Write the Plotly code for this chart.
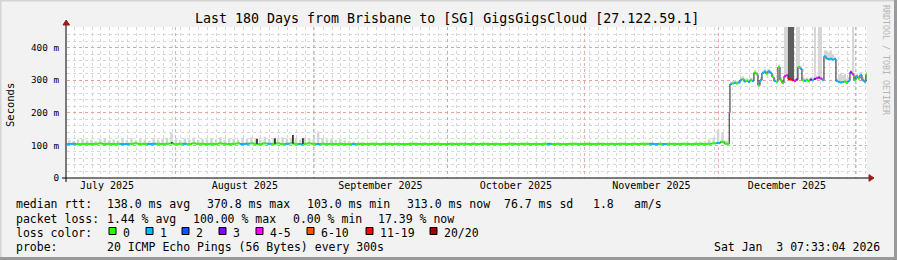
import pandas as pd
import plotly.graph_objects as go

# ---------------- data ----------------
title = "Last 180 Days from Brisbane to [SG] GigsGigsCloud [27.122.59.1]"
x_start = "2025-07-07 12:00"
x_end = "2026-01-03 12:00"
y_max = 463
y_tickvals = [0, 100, 200, 300, 400]
y_ticktext = ["0", "100 m", "200 m", "300 m", "400 m"]

loss_labels = ["0", "1", "2", "3", "4-5", "6-10", "11-19", "20/20"]
loss_colors = ["#26ff00", "#00b8ff", "#0059ff", "#7e00ff", "#ff00ff", "#ff5500", "#ff0000", "#a10000"]

# daily bins, Jul 7 -> Dec 3
early_start = "2025-07-07 12:00"
early_median = [
    104, 105, 104, 104, 105, 104, 105, 106, 104, 105,
    104, 105, 104, 104, 105, 106, 104, 105, 104, 105,
    105, 104, 105, 106, 104, 105, 105, 104, 106, 105,
    105, 104, 105, 104, 106, 105, 104, 105, 106, 104,
    105, 106, 105, 104, 106, 105, 105, 106, 104, 105,
    106, 105, 104, 105, 106, 105, 104, 105, 104, 105,
    104, 105, 104, 104, 104, 104, 105, 104, 105, 105,
    104, 105, 105, 104, 105, 104, 104, 105, 105, 104,
    105, 104, 105, 105, 104, 104, 105, 104, 105, 105,
    104, 105, 104, 105, 105, 104, 105, 104, 104, 105,
    105, 104, 105, 105, 104, 105, 104, 105, 105, 104,
    105, 104, 104, 105, 105, 104, 105, 105, 104, 105,
    105, 104, 105, 104, 105, 105, 104, 105, 104, 105,
    105, 105, 104, 105, 104, 105, 105, 104, 105, 105,
    104, 105, 105, 104, 105, 106, 107, 111, 105,
]
early_loss = [
    1, 1, 0, 0, 0, 0, 0, 0, 0, 0,
    0, 0, 1, 1, 0, 0, 0, 0, 1, 1,
    0, 0, 0, 0, 0, 0, 1, 0, 0, 0,
    0, 0, 0, 0, 0, 0, 0, 0, 0, 1,
    1, 0, 0, 0, 0, 1, 0, 0, 0, 1,
    0, 0, 1, 0, 0, 0, 1, 0, 0, 0,
    0, 0, 0, 0, 1, 0, 0, 0, 0, 0,
    0, 0, 0, 0, 0, 0, 0, 0, 0, 0,
    0, 0, 0, 0, 0, 0, 0, 0, 0, 0,
    0, 0, 0, 0, 0, 0, 0, 0, 0, 0,
    0, 0, 0, 0, 0, 0, 0, 0, 1, 0,
    0, 0, 0, 0, 0, 0, 0, 0, 0, 0,
    0, 0, 0, 0, 0, 0, 0, 0, 0, 0,
    0, 1, 1, 0, 1, 0, 0, 0, 0, 0,
    0, 0, 0, 0, 0, 0, 1, 0, 0,
]
early_smoke = [
    116, 114, 118, 120, 115, 117, 113, 119, 121, 116,
    118, 115, 120, 117, 122, 116, 119, 118, 114, 121,
    117, 120, 123, 138, 119, 116, 121, 118, 124, 117,
    120, 118, 122, 119, 125, 117, 121, 120, 118, 123,
    119, 124, 121, 118, 126, 120, 122, 119, 125, 121,
    123, 120, 118, 124, 121, 119, 142, 122, 118, 120,
    117, 119, 115, 113, 112, 110, 109, 108, 108, 108,
    107, 108, 108, 107, 108, 107, 107, 108, 108, 107,
    108, 107, 108, 108, 107, 107, 108, 107, 108, 108,
    107, 108, 107, 108, 108, 107, 108, 107, 107, 108,
    108, 107, 108, 108, 107, 108, 107, 108, 108, 107,
    108, 107, 107, 108, 108, 107, 108, 108, 107, 108,
    108, 107, 108, 107, 108, 108, 107, 108, 107, 108,
    108, 108, 107, 108, 107, 108, 108, 107, 108, 108,
    108, 109, 110, 112, 118, 125, 147, 140, 115,
]

# the step up on Dec 3
transition_time = "2025-12-03 12:00"
transition_median = 200
transition_loss = 1

# finer bins, Dec 3 -> Jan 3
late_start = "2025-12-03 16:00"
late_step_minutes = 648
late_median = [
    288, 290, 292, 290, 293, 300, 303, 296, 298, 295,
    300, 297, 323, 318, 284, 300, 322, 326, 320, 327,
    322, 310, 297, 295, 340, 300, 291, 312, 315, 303,
    302, 300, 298, 302, 340, 335, 300, 298, 300, 297,
    302, 300, 304, 306, 308, 305, 300, 373, 366, 364,
    366, 363, 365, 297, 295, 293, 294, 296, 292, 298,
    324, 318, 300, 312, 305, 316, 300, 295, 318,
]
late_loss = [
    1, 0, 1, 0, 1, 1, 0, 1, 0, 1,
    0, 1, 0, 0, 0, 1, 1, 1, 0, 1,
    1, 0, 1, 0, 0, 0, 0, 4, 4, 6,
    6, 6, 4, 3, 0, 1, 0, 1, 0, 0,
    3, 1, 3, 4, 3, 4, 1, 1, 1, 1,
    1, 1, 1, 1, 1, 1, 1, 0, 0, 1,
    3, 4, 0, 1, 0, 1, 1, 1, 0,
]
late_smoke = [
    296, 298, 300, 298, 300, 310, 312, 305, 306, 304,
    308, 306, 332, 326, 292, 310, 330, 334, 330, 335,
    330, 318, 305, 303, 348, 308, 300, 463, 463, 463,
    463, 463, 306, 463, 463, 345, 308, 306, 308, 305,
    310, 308, 463, 314, 463, 463, 308, 392, 390, 385,
    392, 380, 372, 305, 318, 322, 315, 320, 305, 310,
    332, 463, 310, 320, 312, 325, 310, 305, 325,
]
late_heavy = [
    0, 0, 0, 0, 0, 0, 0, 0, 0, 0,
    0, 0, 0, 0, 0, 0, 0, 0, 0, 0,
    0, 0, 0, 0, 0, 0, 0, 0, 0, 1,
    1, 1, 0, 0, 0, 0, 0, 0, 0, 0,
    0, 0, 0, 0, 0, 0, 0, 0, 0, 0,
    0, 0, 0, 0, 0, 0, 0, 0, 0, 0,
    0, 0, 0, 0, 0, 0, 0, 0, 0,
]

# isolated short high-median samples
spike_times = ["2025-07-31 02:00", "2025-08-19 06:00", "2025-08-23 07:00",
               "2025-08-27 08:00", "2025-08-29 14:00"]
spike_values = [110, 120, 122, 132, 122]

legend_rows = [
    [(16, "median rtt:"), (107, "138.0 ms avg"), (207, "370.8 ms max"), (307, "103.0 ms min"),
     (407, "313.0 ms now"), (504, "76.7 ms sd"), (593, "1.8"), (634, "am/s")],
    [(16, "packet loss:"), (107, "1.44 % avg"), (193, "100.00 % max"), (293, "0.00 % min"),
     (378, "17.39 % now")],
    [(16, "loss color:")],
    [(16, "probe:"), (107, "20 ICMP Echo Pings (56 Bytes) every 300s")],
]
legend_row_y = [204.5, 218.5, 232.5, 246.5]
box_x = [109, 146, 182, 219, 256, 307, 366, 430]
date_text = "Sat Jan \u00a03 07:33:04 2026"

# ---------------- build ----------------
MONO = "DejaVu Sans Mono"
L, R, T, B = 67, 867, 27, 178
W, H = 897, 260


def px(x):
    return (x - L) / (R - L)


def py(y):
    return (B - y) / (B - T)


step = pd.Timedelta(minutes=late_step_minutes)
early_times = [pd.Timestamp(early_start) + pd.Timedelta(days=i) for i in range(len(early_median))]
late_times = [pd.Timestamp(late_start) + step * i for i in range(len(late_median))]
times = early_times + [pd.Timestamp(transition_time)] + late_times
medians = early_median + [transition_median] + late_median
losses = early_loss + [transition_loss] + late_loss
ends = times[1:] + [late_times[-1] + step]

fig = go.Figure()

# smoke (early)
day = pd.Timedelta(days=1)
fig.add_trace(go.Bar(
    x=[t + day / 2 for t in early_times],
    base=[m - 2 for m in early_median],
    y=[s - m + 2 for s, m in zip(early_smoke, early_median)],
    width=0.55 * 86400000, marker=dict(color="#d4d4d4", line=dict(width=0)),
    hoverinfo="skip"))
# smoke (late)
fig.add_trace(go.Bar(
    x=[t + step / 2 for t in late_times],
    base=[m - 3 for m in late_median],
    y=[s - m + 3 for s, m in zip(late_smoke, late_median)],
    width=0.7 * late_step_minutes * 60000, marker=dict(color="#d6d6d6", line=dict(width=0)),
    hoverinfo="skip"))
hv = [(t, m) for t, m, h in zip(late_times, late_median, late_heavy) if h]
fig.add_trace(go.Bar(
    x=[t + step / 2 for t, m in hv],
    base=[m for t, m in hv],
    y=[y_max - m for t, m in hv],
    width=late_step_minutes * 60000, marker=dict(color="#5a5a5a", line=dict(width=0)),
    hoverinfo="skip"))

# thin dark median line
fig.add_trace(go.Scatter(
    x=times + [ends[-1]], y=medians + [medians[-1]], mode="lines",
    line=dict(color="#202020", width=1, shape="hv"), hoverinfo="skip"))

# loss-coloured median segments
for c, col in enumerate(loss_colors):
    xs, ys = [], []
    for t0, t1, m, lc in zip(times, ends, medians, losses):
        if lc == c:
            xs += [t0, t1, None]
            ys += [m, m, None]
    if xs:
        fig.add_trace(go.Scatter(x=xs, y=ys, mode="lines",
                                 line=dict(color=col, width=2), hoverinfo="skip"))

# spikes
sx, sy = [], []
for st, sv in zip(spike_times, spike_values):
    t = pd.Timestamp(st)
    idx = max(i for i, et in enumerate(early_times) if et <= t)
    sx += [t, t, None]
    sy += [early_median[idx], sv, None]
fig.add_trace(go.Scatter(x=sx, y=sy, mode="lines", line=dict(color="#101010", width=1.5),
                         hoverinfo="skip"))

ann = []
ann.append(dict(text=title, x=px(447), y=py(19), xanchor="center", yanchor="middle",
                font=dict(family=MONO, size=13.3, color="#000")))
ann.append(dict(text="RRDTOOL / TOBI OETIKER", x=px(886), y=py(60), textangle=90,
                xanchor="center", yanchor="middle",
                font=dict(family=MONO, size=8.3, color="#b4b4b4")))
ann.append(dict(text="Seconds", x=px(10), y=py(105), textangle=-90,
                xanchor="center", yanchor="middle",
                font=dict(family=MONO, size=10.5, color="#000")))
for row, yy in zip(legend_rows, legend_row_y):
    for xx, tx in row:
        ann.append(dict(text=tx, x=px(xx), y=py(yy), xanchor="left", yanchor="middle",
                        font=dict(family=MONO, size=11.5, color="#000")))
for bx, lab in zip(box_x, loss_labels):
    ann.append(dict(text=lab, x=px(bx + 14), y=py(legend_row_y[2]), xanchor="left",
                    yanchor="middle", font=dict(family=MONO, size=11.5, color="#000")))
ann.append(dict(text=date_text, x=px(880), y=py(legend_row_y[3]), xanchor="right",
                yanchor="middle", font=dict(family=MONO, size=11.5, color="#000")))
for a in ann:
    a.update(xref="paper", yref="paper", showarrow=False, borderpad=0, borderwidth=0)

shapes = []
for bx, col in zip(box_x, loss_colors):
    shapes.append(dict(type="rect", x0=px(bx), x1=px(bx + 7), y0=py(227.5), y1=py(234.5),
                       fillcolor=col, line=dict(color="#000", width=1)))
# axes
shapes.append(dict(type="line", x0=px(62), x1=px(869), y0=py(178), y1=py(178),
                   line=dict(color="#000", width=1)))
shapes.append(dict(type="line", x0=px(66), x1=px(66), y0=py(182), y1=py(25),
                   line=dict(color="#000", width=1)))
shapes.append(dict(type="path",
                   path=f"M {px(63)},{py(25)} L {px(69.5)},{py(25)} L {px(66.2)},{py(20)} Z",
                   fillcolor="#9b1c1c", line=dict(color="#9b1c1c", width=1)))
shapes.append(dict(type="path",
                   path=f"M {px(869)},{py(174.7)} L {px(869)},{py(181.3)} L {px(874)},{py(178)} Z",
                   fillcolor="#9b1c1c", line=dict(color="#9b1c1c", width=1)))
# frame
shapes.append(dict(type="line", x0=px(0), x1=px(W), y0=py(0.75), y1=py(0.75),
                   line=dict(color="#d4d4d4", width=1.5)))
shapes.append(dict(type="line", x0=px(0.75), x1=px(0.75), y0=py(0), y1=py(H),
                   line=dict(color="#d4d4d4", width=1.5)))
shapes.append(dict(type="line", x0=px(0), x1=px(W), y0=py(H - 1.5), y1=py(H - 1.5),
                   line=dict(color="#9a9a9a", width=3)))
shapes.append(dict(type="line", x0=px(W - 1.5), x1=px(W - 1.5), y0=py(0), y1=py(H),
                   line=dict(color="#9a9a9a", width=3)))
for s in shapes:
    s.update(xref="paper", yref="paper")

fig.update_layout(
    width=W, height=H,
    margin=dict(l=L, r=W - R, t=T, b=H - B, pad=0, autoexpand=False),
    paper_bgcolor="#f2f2f2", plot_bgcolor="#ffffff",
    showlegend=False, barmode="overlay",
    font=dict(family=MONO, color="#000"),
    annotations=ann, shapes=shapes,
    xaxis=dict(type="date", range=[x_start, x_end], dtick="M1", tick0="2025-08-01",
               ticklabelmode="period", tickformat="%B %Y",
               tickfont=dict(family=MONO, size=10, color="#000"),
               showgrid=True, gridcolor="rgba(240,140,140,0.75)", griddash="dot", gridwidth=1,
               minor=dict(dtick=2 * 86400000, tick0="2025-07-09 03:00", showgrid=True,
                          gridcolor="#d8d8d8", griddash="dot", gridwidth=1),
               showline=False, zeroline=False, ticks="", fixedrange=True),
    yaxis=dict(range=[0, y_max], tickvals=y_tickvals, ticktext=y_ticktext,
               tickfont=dict(family=MONO, size=9.3, color="#000"),
               showgrid=True, gridcolor="rgba(240,140,140,0.75)", griddash="dot", gridwidth=1,
               minor=dict(dtick=20, showgrid=True, gridcolor="#d8d8d8", griddash="dot",
                          gridwidth=1),
               showline=False, zeroline=False, ticks="", ticklabelstandoff=7,
               fixedrange=True),
)

fig.write_html("out.html")
